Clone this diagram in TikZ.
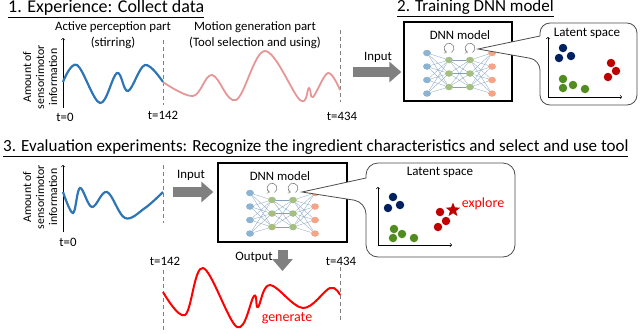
\documentclass[tikz,border=0pt]{standalone}
\usepackage{fontspec}
\setmainfont{Carlito}
\usetikzlibrary{shapes.geometric,arrows.meta,backgrounds}

\definecolor{curveblue}{RGB}{46,117,182}
\definecolor{curvepink}{RGB}{230,150,150}
\definecolor{curvered}{RGB}{255,0,0}
\definecolor{dotnavy}{RGB}{0,32,96}
\definecolor{dotgreen}{RGB}{80,140,30}
\definecolor{dotred}{RGB}{192,0,0}
\definecolor{nnin}{RGB}{140,180,210}
\definecolor{nnhid}{RGB}{165,190,130}
\definecolor{nnout}{RGB}{245,165,135}
\definecolor{nnline}{RGB}{130,160,190}
\definecolor{arrowgray}{RGB}{128,128,128}

\begin{document}
\begin{tikzpicture}[x=1pt,y=-1pt,>=to,
  ttl/.style={font=\fontsize{17}{20}\selectfont,anchor=west,inner sep=0pt},
  lbl/.style={font=\fontsize{12.8}{14}\selectfont,inner sep=0pt},
  ylbl/.style={font=\fontsize{11.8}{13}\selectfont,align=center,rotate=90,inner sep=0pt},
  tick/.style={gray,dash pattern=on 4pt off 3pt,line width=0.8pt},
  axis/.style={->,line width=0.6pt},
  bigarrow/.style={draw=arrowgray,line width=10pt,-{Triangle[length=12pt,width=20pt]}},
  boxnode/.style={draw,line width=1.3pt,inner sep=0pt},
  callout/.style={draw=black!70,line width=0.8pt,fill=white},
  dot/.style={circle,inner sep=0pt,minimum size=8.5pt},
  neuron/.style={ellipse,inner sep=0pt,minimum width=8pt,minimum height=6.5pt},
  nnedge/.style={draw=nnline,line width=0.3pt},
  loopar/.style={->,draw=gray,line width=0.6pt}]
\useasboundingbox (0,0) rectangle (640,333);

% Titles
\node[ttl,font=\fontsize{18}{20}\selectfont] (ttlA) at (8,9) {\underline{1. Experience: Collect data}};
\node[ttl] (ttlB) at (397,8) {\underline{2. Training DNN model}};
\node[ttl] (ttlC) at (3,148) {\underline{3. Evaluation experiments: Recognize the ingredient characteristics and select and use tool}};

% Collected data
\node[ylbl] (yA) at (40,77) {Amount of\\sensorimotor\\information};
\draw[axis] (63,108) -- (63,38);
\draw[tick] (163,40) -- (163,105);
\draw[tick] (340,30) -- (340,102);
\draw[curveblue,line width=2.2pt] plot[smooth,tension=0.6] coordinates
  {(63,82) (77,65) (100,103) (117,73) (128,91) (145,65) (163,82)};
\draw[curvepink,line width=1.8pt] plot[smooth,tension=0.6] coordinates
  {(163,82) (193,96) (212,75) (236,100) (265,51) (300,100) (309,88) (313,97) (328,73) (340,90)};
\node[lbl] (actA) at (113,27) {Active perception part};
\node[lbl] (actB) at (113,43) {(stirring)};
\node[lbl] (motA) at (255,27) {Motion generation part};
\node[lbl] (motB) at (255,43) {(Tool selection and using)};
\node[lbl] (tzeroA) at (65,117) {t=0};
\node[lbl] (tmidA) at (163,115) {t=142};
\node[lbl] (tendA) at (342,116) {t=434};

% DNN boxes
\node[boxnode,minimum width=108pt,minimum height=79pt] (dnnA) at (458,61.5) {};
\node[lbl] (dnnAlbl) at (460,35) {DNN model};
\node[boxnode,minimum width=129pt,minimum height=79pt] (dnnB) at (282.5,202.5) {};
\node[lbl] (dnnBlbl) at (280,176) {DNN model};

% Networks
\foreach \p/\nx/\ny in {a/427/53,b/250/193}{
  \foreach \k in {1,...,4}{
    \node[neuron,fill=nnin] (\p-in-\k) at (\nx,\ny+13.5*\k-13.5) {};
    \node[neuron,fill=nnout] (\p-out-\k) at (\nx+65,\ny+13.5*\k-13.5) {};
  }
  \foreach \k in {1,2,3}{
    \node[neuron,fill=nnhid] (\p-ha-\k) at (\nx+22,\ny+13.5*\k-6.5) {};
    \node[neuron,fill=nnhid] (\p-hb-\k) at (\nx+43,\ny+13.5*\k-6.5) {};
  }
  \begin{pgfonlayer}{background}
  \foreach \i in {1,...,4}{
    \foreach \j in {1,2,3}{
      \draw[nnedge] (\p-in-\i) -- (\p-ha-\j);
      \draw[nnedge] (\p-hb-\j) -- (\p-out-\i);
    }
  }
  \foreach \i in {1,2,3}{
    \foreach \j in {1,2,3}{
      \draw[nnedge] (\p-ha-\i) -- (\p-hb-\j);
    }
  }
  \end{pgfonlayer}
  \draw[loopar] ([xshift=2.5pt,yshift=4pt]\p-ha-1.north) arc[start angle=-60,end angle=240,radius=5pt];
  \draw[loopar] ([xshift=2.5pt,yshift=4pt]\p-hb-1.north) arc[start angle=-60,end angle=240,radius=5pt];
}

% Latent space callouts
\draw[callout] (478,49) -- (540,36) [rounded corners=10pt] |- (637,23) |- (540,105)
  -- (540,60) [sharp corners] -- cycle;
\node[lbl,font=\fontsize{13}{15}\selectfont] (latA) at (587,33) {Latent space};
\draw[axis] (548,97) -- (548,37);
\draw[axis] (548,97) -- (622,97);
\draw[callout] (302,192) -- (366,178) [rounded corners=12pt] |- (515,163) |- (366,257)
  -- (366,202) [sharp corners] -- cycle;
\node[lbl,font=\fontsize{13}{15}\selectfont] (latB) at (440,172) {Latent space};
\draw[axis] (378,245) -- (378,187);
\draw[axis] (378,245) -- (452,245);

% Latent points
\foreach \x/\y [count=\n] in {563/48,559/58,571/56}{
  \node[dot,fill=dotnavy] (navA\n) at (\x,\y) {};
}
\foreach \x/\y [count=\n] in {563/79,563/88,573/85,585/89}{
  \node[dot,fill=dotgreen] (grnA\n) at (\x,\y) {};
}
\foreach \x/\y [count=\n] in {611/63,616/71,608/77}{
  \node[dot,fill=dotred] (redA\n) at (\x,\y) {};
}
\foreach \x/\y [count=\n] in {393/197,388/208,400/205}{
  \node[dot,fill=dotnavy] (navB\n) at (\x,\y) {};
}
\foreach \x/\y [count=\n] in {394/229,393/238,402/234,414/238}{
  \node[dot,fill=dotgreen] (grnB\n) at (\x,\y) {};
}
\foreach \x/\y [count=\n] in {440/212,446/221,438/227}{
  \node[dot,fill=dotred] (redB\n) at (\x,\y) {};
}
\node[star,star points=5,star point ratio=2.3,minimum size=15pt,inner sep=0pt,fill=dotred] (expl) at (453,210) {};
\node[lbl,font=\fontsize{14}{16}\selectfont,text=curvered] (explbl) at (483,204) {explore};

% Input arrows
\coordinate (inA) at (353,72);
\draw[bigarrow,shorten >=2pt] (inA) -- (inA -| dnnA.west);
\node[lbl] (inAlbl) at (378,57) {Input};
\coordinate (inB) at (173,192);
\draw[bigarrow,shorten >=4pt] (inB) -- (inB -| dnnB.west);
\node[lbl] (inBlbl) at (191,175) {Input};

% Evaluation input
\node[ylbl] (yB) at (40,197) {Amount of\\sensorimotor\\information};
\draw[axis] (63,232) -- (63,165);
\draw[tick] (163,165) -- (163,223);
\draw[curveblue,line width=2.2pt] plot[smooth,tension=0.6] coordinates
  {(63,192) (73,213) (80,188) (92,207) (107,192) (125,218) (145,208) (163,192)};
\node[lbl] (tzeroB) at (68,242) {t=0};

% Output
\coordinate (outB) at (282.5,271);
\draw[bigarrow,shorten <=7pt] (dnnB.south) -- (outB);
\node[lbl] (outBlbl) at (254,257) {Output};
\node[lbl] (tmidB) at (165,261) {t=142};
\node[lbl] (tendB) at (341,261) {t=434};
\draw[tick] (163,270) -- (163,332);
\draw[tick] (340,267) -- (340,322);
\draw[curvered,line width=2pt] plot[smooth,tension=0.6] coordinates
  {(163,292) (185,315) (203,268) (237,327) (254,296) (258,307) (270,285) (303,308) (330,288) (340,295)};
\node[lbl,font=\fontsize{14}{16}\selectfont,text=curvered] (genlbl) at (287,318) {generate};

\end{tikzpicture}
\end{document}
